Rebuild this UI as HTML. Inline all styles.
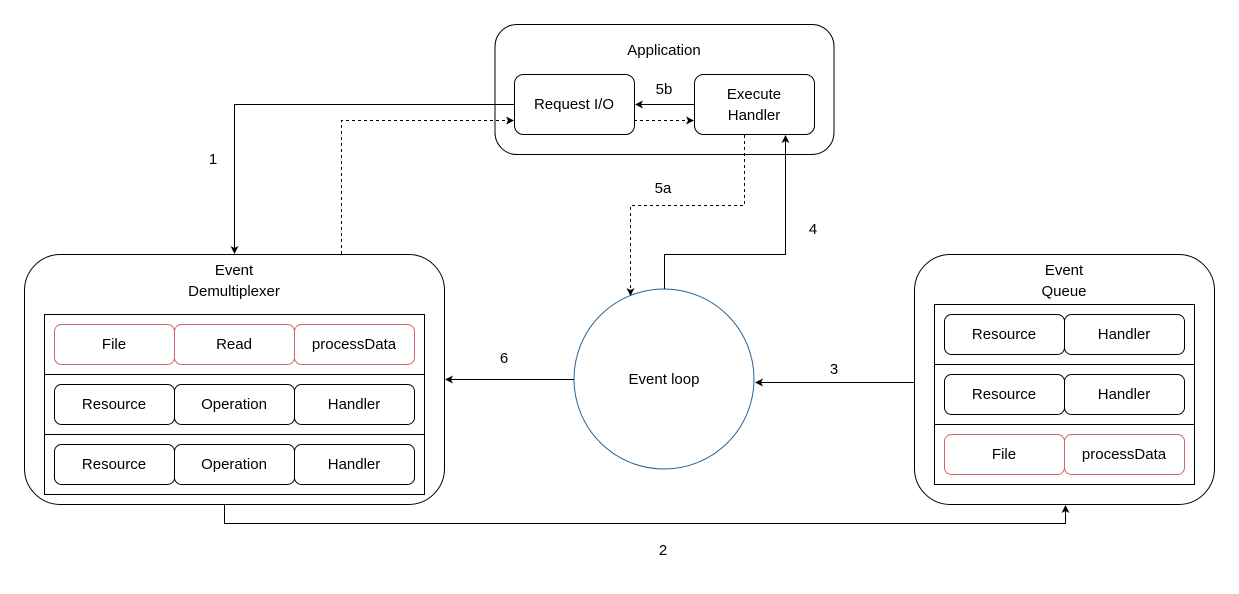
<!DOCTYPE html>
<html><head><meta charset="utf-8"><style>
body{margin:0;background:#fff}
text{font-family:"Liberation Sans",Helvetica,sans-serif;font-size:15px;fill:#000}
</style></head><body>
<svg width="1239" height="589" viewBox="0 0 1239 589" xmlns="http://www.w3.org/2000/svg">
<defs><marker id="a" markerWidth="10" markerHeight="10" refX="7" refY="4" orient="auto" markerUnits="userSpaceOnUse"><path d="M0,0 L8,4 L0,8 L2,4 Z" fill="#000"/></marker></defs>
<g fill="none" stroke="#000" stroke-width="1">
<rect x="495" y="24.5" width="339" height="130" rx="22"/>
<rect x="514.5" y="74.5" width="120" height="60" rx="9"/>
<rect x="694.5" y="74.5" width="120" height="60" rx="9"/>
<rect x="24.5" y="254.5" width="420" height="250" rx="36"/>
<rect x="44.5" y="314.5" width="380" height="180"/>
<line x1="44" y1="374.5" x2="424" y2="374.5"/><line x1="44" y1="434.5" x2="424" y2="434.5"/>
<g stroke="#c66">
<rect x="54.5" y="324.5" width="120" height="40" rx="7"/><rect x="174.5" y="324.5" width="120" height="40" rx="7"/><rect x="294.5" y="324.5" width="120" height="40" rx="7"/>
</g>
<rect x="54.5" y="384.5" width="120" height="40" rx="7"/><rect x="174.5" y="384.5" width="120" height="40" rx="7"/><rect x="294.5" y="384.5" width="120" height="40" rx="7"/>
<rect x="54.5" y="444.5" width="120" height="40" rx="7"/><rect x="174.5" y="444.5" width="120" height="40" rx="7"/><rect x="294.5" y="444.5" width="120" height="40" rx="7"/>
<rect x="914.5" y="254.5" width="300" height="250" rx="36"/>
<rect x="934.5" y="304.5" width="260" height="180"/>
<line x1="934" y1="364.5" x2="1194" y2="364.5"/><line x1="934" y1="424.5" x2="1194" y2="424.5"/>
<rect x="944.5" y="314.5" width="120" height="40" rx="7"/><rect x="1064.5" y="314.5" width="120" height="40" rx="7"/>
<rect x="944.5" y="374.5" width="120" height="40" rx="7"/><rect x="1064.5" y="374.5" width="120" height="40" rx="7"/>
<g stroke="#c66"><rect x="944.5" y="434.5" width="120" height="40" rx="7"/><rect x="1064.5" y="434.5" width="120" height="40" rx="7"/></g>
<circle cx="664" cy="379" r="90" stroke="#2a6496"/>
<path d="M514 104.5 H234.5 V253" marker-end="url(#a)"/>
<path d="M341.5 254 V120.5 H513" stroke-dasharray="3,3" marker-end="url(#a)"/>
<path d="M634 120.5 H693" stroke-dasharray="3,3" marker-end="url(#a)"/>
<path d="M694 104.5 H636" marker-end="url(#a)"/>
<path d="M744.5 135 V205.5 H630.5 V295" stroke-dasharray="3,3" marker-end="url(#a)"/>
<path d="M664.5 289 V254.5 H785.5 V136" marker-end="url(#a)"/>
<path d="M574 379.5 H446" marker-end="url(#a)"/>
<path d="M914 382.5 H756" marker-end="url(#a)"/>
<path d="M224.5 504 V523.5 H1065.5 V506" marker-end="url(#a)"/>
</g>
<g text-anchor="middle">
<text x="664" y="55">Application</text>
<text x="574" y="109">Request I/O</text>
<text x="754" y="99">Execute</text><text x="754" y="120">Handler</text>
<text x="664" y="94">5b</text>
<text x="663" y="193">5a</text>
<text x="813" y="234">4</text>
<text x="213" y="164">1</text>
<text x="504" y="363">6</text>
<text x="834" y="374">3</text>
<text x="663" y="555">2</text>
<text x="664" y="384">Event loop</text>
<text x="234" y="275">Event</text><text x="234" y="296">Demultiplexer</text>
<text x="114" y="349">File</text><text x="234" y="349">Read</text><text x="354" y="349">processData</text>
<text x="114" y="409">Resource</text><text x="234" y="409">Operation</text><text x="354" y="409">Handler</text>
<text x="114" y="469">Resource</text><text x="234" y="469">Operation</text><text x="354" y="469">Handler</text>
<text x="1064" y="275">Event</text><text x="1064" y="296">Queue</text>
<text x="1004" y="339">Resource</text><text x="1124" y="339">Handler</text>
<text x="1004" y="399">Resource</text><text x="1124" y="399">Handler</text>
<text x="1004" y="459">File</text><text x="1124" y="459">processData</text>
</g>
</svg>
</body></html>
